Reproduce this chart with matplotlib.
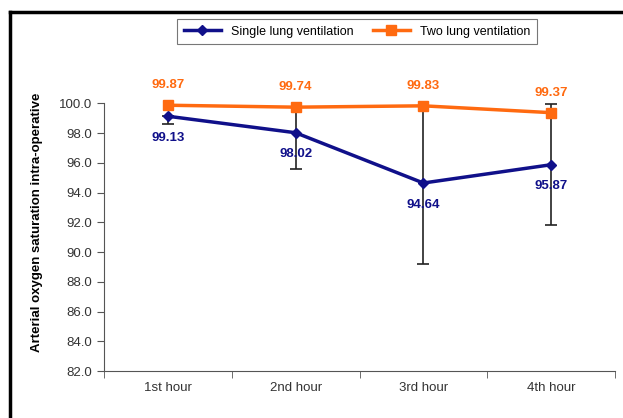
import matplotlib
matplotlib.use("Agg")
import matplotlib.pyplot as plt
from matplotlib.lines import Line2D

plt.rcParams['font.family'] = ['Liberation Sans', 'DejaVu Sans']

# data
hours = ["1st hour", "2nd hour", "3rd hour", "4th hour"]
single_lung = [99.13, 98.02, 94.64, 95.87]
two_lung = [99.87, 99.74, 99.83, 99.37]
# error bars (lower, upper) of the single lung series
single_err_low = [0.55, 2.46, 5.47, 4.06]
single_err_high = [0.0, 1.7, 5.2, 4.1]

blue = "#10108a"
orange = "#ff6a10"

fig = plt.figure(figsize=(6.23, 4.18), dpi=100)
ax = fig.add_axes([104 / 623, 1 - 371 / 418, (615 - 104) / 623, (371 - 103.3) / 418])

x = list(range(len(hours)))

# Error bars first so the lines sit over them
ax.errorbar(x, single_lung, yerr=[single_err_low, single_err_high], fmt="none",
            ecolor="#222222", elinewidth=1.2, capsize=4, capthick=1.2, zorder=2, clip_on=False)
ax.plot(x, single_lung, color=blue, lw=2.5, marker="D", ms=5, zorder=3, clip_on=False,
        label="Single lung ventilation")
ax.plot(x, two_lung, color=orange, lw=2.5, marker="s", ms=7, zorder=4, clip_on=False,
        label="Two lung ventilation")

# value labels
for xi, v in zip(x, two_lung):
    ax.annotate(f"{v:.2f}", (xi, v), xytext=(0, 14.5), textcoords="offset points",
                ha="center", va="center", color=orange, fontsize=9.5, fontweight="bold")
for xi, v in zip(x, single_lung):
    ax.annotate(f"{v:.2f}", (xi, v), xytext=(0, -15.5), textcoords="offset points",
                ha="center", va="center", color=blue, fontsize=9.5, fontweight="bold")

ax.set_xlim(-0.5, 3.5)
ax.set_ylim(82, 100)
ax.set_yticks([82, 84, 86, 88, 90, 92, 94, 96, 98, 100])
ax.set_yticklabels([f"{t:.1f}" for t in ax.get_yticks()])
ax.set_xticks(x)
ax.set_xticklabels(hours)
ax.set_xticks([-0.5, 0.5, 1.5, 2.5, 3.5], minor=True)
ax.tick_params(axis="x", which="major", length=0, pad=8)
ax.tick_params(axis="x", which="minor", length=5, color="#555555")
ax.tick_params(axis="y", length=5, color="#555555")
ax.tick_params(labelsize=9.5, labelcolor="#333333")

ax.spines["top"].set_visible(False)
ax.spines["right"].set_visible(False)
ax.spines["left"].set_color("#555555")
ax.spines["bottom"].set_color("#555555")

fig.text(37 / 623, 1 - 222 / 418, "Arterial oxygen saturation intra-operative",
         rotation=90, ha="center", va="center", fontsize=9.5, fontweight="bold")

leg = fig.legend(loc="center", bbox_to_anchor=(357 / 623, 1 - 31.5 / 418), ncol=2,
                 fontsize=9, frameon=True, fancybox=False, handlelength=3,
                 columnspacing=1.5, borderpad=0.5)
leg.get_frame().set_edgecolor("#555555")
leg.get_frame().set_linewidth(0.8)

# outer frame (left and top edges visible)
fig.add_artist(Line2D([9.5 / 623, 9.5 / 623], [0, 1 - 11.5 / 418], transform=fig.transFigure,
                      color="black", lw=2.5))
fig.add_artist(Line2D([9.5 / 623, 1], [1 - 11.5 / 418, 1 - 11.5 / 418], transform=fig.transFigure,
                      color="black", lw=2.5))

fig.savefig("out.png", dpi=100)
